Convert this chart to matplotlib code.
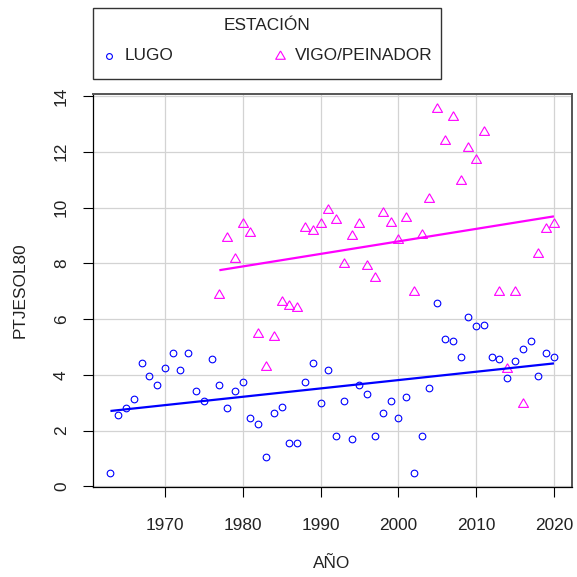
import numpy as np
import matplotlib
matplotlib.use("Agg")
import matplotlib.pyplot as plt
from matplotlib.lines import Line2D
from matplotlib.patches import Rectangle

plt.rcParams['font.family'] = ['Liberation Sans', 'DejaVu Sans']

# Data
lugo_years = list(range(1963, 2021))
lugo_vals = [0.49, 2.55, 2.82, 3.14, 4.41, 3.96, 3.65, 4.24, 4.80, 4.17,
             4.80, 3.42, 3.06, 4.57, 3.65, 2.82, 3.42, 3.73, 2.47, 2.24,
             1.04, 2.65, 2.83, 1.55, 1.55, 3.73, 4.44, 2.98, 4.17, 1.79,
             3.06, 1.71, 3.65, 3.33, 1.79, 2.65, 3.06, 2.47, 3.21, 0.49,
             1.79, 3.54, 6.57, 5.30, 5.23, 4.64, 6.06, 5.75, 5.80, 4.64,
             4.57, 3.88, 4.48, 4.92, 5.23, 3.96, 4.80, 4.64]

vigo_years = [1977, 1978, 1979, 1980, 1981, 1982, 1983, 1984, 1985, 1986,
              1987, 1988, 1989, 1990, 1991, 1992, 1993, 1994, 1995, 1996,
              1997, 1998, 1999, 2000, 2001, 2002, 2003, 2004, 2005, 2006,
              2007, 2008, 2009, 2010, 2011, 2013, 2014, 2015, 2016, 2018,
              2019, 2020]
vigo_vals = [6.87, 8.90, 8.14, 9.41, 9.07, 5.47, 4.29, 5.37, 6.63, 6.47,
             6.39, 9.25, 9.15, 9.40, 9.92, 9.54, 7.97, 8.97, 9.40, 7.89,
             7.47, 9.80, 9.46, 8.83, 9.64, 6.98, 9.00, 10.29, 13.55, 12.39,
             13.23, 10.96, 12.15, 11.71, 12.71, 6.98, 4.21, 6.98, 2.94, 8.35,
             9.23, 9.40]

station_names = ["LUGO", "VIGO/PEINADOR"]
legend_title = "ESTACIÓN"
x_ticks = [1970, 1980, 1990, 2000, 2010, 2020]
y_ticks = [0, 2, 4, 6, 8, 10, 12, 14]

BLUE = "#0000FF"
MAG = "#FF00FF"
TXT = "#222222"
FS = 12.4
tri = [(0, 1), (-0.866, -0.5), (0.866, -0.5), (0, 1)]

W = H = 577
fig = plt.figure(figsize=(5.77, 5.77), dpi=100)
ax = fig.add_axes([92.7/W, 1-487.3/H, (571.7-92.7)/W, (487.3-94)/H])

ax.set_axisbelow(True)
ax.grid(True, color="#D3D3D3", linewidth=0.9)

ax.plot(lugo_years, lugo_vals, linestyle='none', marker='o', ms=4.8,
        mfc='none', mec=BLUE, mew=0.8, zorder=3)
ax.plot(vigo_years, vigo_vals, linestyle='none', marker=tri, ms=8.3,
        mfc='none', mec=MAG, mew=0.8, zorder=3)

for yrs, vals, col in [(lugo_years, lugo_vals, BLUE), (vigo_years, vigo_vals, MAG)]:
    yrs = np.array(yrs, float)
    vals = np.array(vals, float)
    b, a = np.polyfit(yrs, vals, 1)
    xs = np.array([yrs.min(), yrs.max()])
    ax.plot(xs, a + b*xs, color=col, lw=1.6, zorder=4, solid_capstyle='butt')

allx = lugo_years + vigo_years
ally = lugo_vals + vigo_vals
dx = (max(allx) - min(allx)) * 0.04
dy = (max(ally) - min(ally)) * 0.04
ax.set_xlim(min(allx) - dx, max(allx) + dx)
ax.set_ylim(min(ally) - dy, max(ally) + dy)

ax.set_xticks(x_ticks)
ax.set_yticks(y_ticks)
ax.set_yticklabels([str(v) for v in y_ticks], rotation=90, va='center')
ax.tick_params(axis='both', length=7, width=0.8, color='black', labelsize=FS, labelcolor=TXT)
ax.tick_params(axis='x', pad=15)
ax.tick_params(axis='y', pad=10)

for s in ['left', 'bottom']:
    ax.spines[s].set_color('black')
    ax.spines[s].set_linewidth(0.9)
for s in ['top', 'right']:
    ax.spines[s].set_color('#555555')
    ax.spines[s].set_linewidth(1.4)

fig.text(20/W, 1-290/H, "PTJESOL80", rotation=90, ha='center', va='center',
         fontsize=FS, color=TXT)
fig.text(332/W, 1-563/H, "AÑO", ha='center', va='center', fontsize=FS, color=TXT)

# Legend (drawn in figure coordinates)
fig.add_artist(Rectangle((92.6/W, 1-78.5/H), (441-92.6)/W, (78.5-8)/H,
                         transform=fig.transFigure, fill=False,
                         edgecolor='#333333', lw=1.0))
fig.text(267/W, 1-25/H, legend_title, ha='center', va='center', fontsize=FS, color=TXT)
fig.add_artist(Line2D([109/W], [1-55.5/H], transform=fig.transFigure, linestyle='none',
                      marker='o', ms=4.2, mfc='none', mec=BLUE, mew=0.8))
fig.add_artist(Line2D([280/W], [1-55.5/H], transform=fig.transFigure, linestyle='none',
                      marker=tri, ms=8.0, mfc='none', mec=MAG, mew=0.8))
fig.text(125/W, 1-55.5/H, station_names[0], ha='left', va='center', fontsize=FS, color=TXT)
fig.text(295/W, 1-55.5/H, station_names[1], ha='left', va='center', fontsize=FS, color=TXT)

fig.savefig("out.png", dpi=100)
